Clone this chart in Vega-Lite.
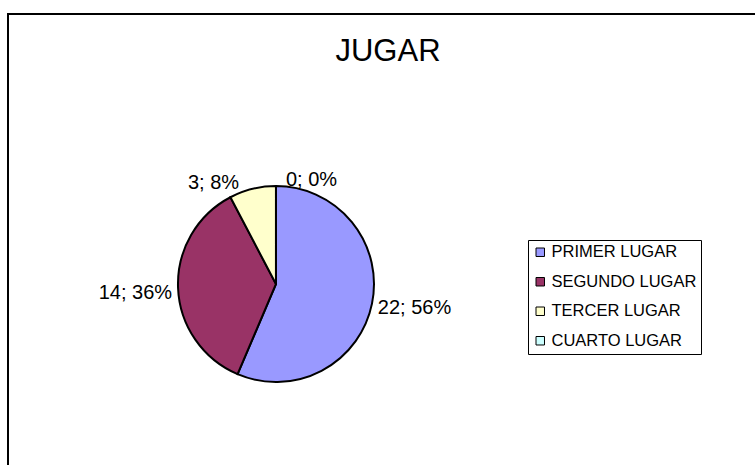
{
  "$schema": "https://vega.github.io/schema/vega-lite/v6.json",
  "width": 760,
  "height": 470,
  "autosize": {"type": "none"},
  "padding": {"left": 8, "top": 14, "right": 0, "bottom": 0},
  "background": "#ffffff",
  "config": {
    "view": {"stroke": "#000000", "strokeWidth": 2},
    "font": "Liberation Sans"
  },
  "title": {
    "text": "JUGAR",
    "font": "Liberation Sans",
    "fontSize": 31,
    "fontWeight": "normal",
    "color": "#000000",
    "anchor": "middle",
    "orient": "top",
    "baseline": "alphabetic",
    "offset": -78
  },
  "data": {
    "values": [
      {"cat": "PRIMER LUGAR", "value": 22, "label": "22; 56%", "order": 1},
      {"cat": "SEGUNDO LUGAR", "value": 14, "label": "14; 36%", "order": 2},
      {"cat": "TERCER LUGAR", "value": 3, "label": "3; 8%", "order": 3},
      {"cat": "CUARTO LUGAR", "value": 0, "label": "0; 0%", "order": 4}
    ]
  },
  "encoding": {
    "x": {"datum": "pie", "type": "nominal", "scale": {"type": "point", "align": 0.3526}, "axis": null},
    "y": {"datum": "pie", "type": "nominal", "scale": {"type": "point", "align": 0.5745}, "axis": null},
    "theta": {"field": "value", "type": "quantitative", "stack": true},
    "order": {"field": "order", "type": "quantitative"}
  },
  "layer": [
    {
      "mark": {"type": "arc", "outerRadius": 98, "stroke": "#000000", "strokeWidth": 2},
      "encoding": {
        "color": {
          "field": "cat",
          "type": "nominal",
          "scale": {
            "domain": ["PRIMER LUGAR", "SEGUNDO LUGAR", "TERCER LUGAR", "CUARTO LUGAR"],
            "range": ["#9999FF", "#993366", "#FFFFCC", "#CCFFFF"]
          },
          "legend": {
            "orient": "none",
            "legendX": 520,
            "legendY": 226,
            "title": null,
            "strokeColor": "#000000",
            "fillColor": "#ffffff",
            "padding": 4,
            "symbolType": "square",
            "symbolSize": 72,
            "symbolStrokeColor": "#000000",
            "symbolStrokeWidth": 1,
            "labelFont": "Liberation Sans",
            "labelFontSize": 16.5,
            "labelColor": "#000000",
            "labelOffset": 3,
            "rowPadding": 12.5
          }
        }
      }
    },
    {
      "mark": {
        "type": "text",
        "radius": 104,
        "fontSize": 20,
        "font": "Liberation Sans",
        "color": "#000000",
        "baseline": "middle",
        "align": {"expr": "datum.cat == 'SEGUNDO LUGAR' || datum.cat == 'TERCER LUGAR' ? 'right' : 'left'"},
        "dx": {"expr": "datum.cat == 'TERCER LUGAR' ? -12 : datum.cat == 'CUARTO LUGAR' ? 10 : 0"},
        "dy": {"expr": "datum.cat == 'SEGUNDO LUGAR' ? 5 : datum.cat == 'PRIMER LUGAR' ? 3 : 0"}
      },
      "encoding": {
        "text": {"field": "label"},
        "detail": {"field": "cat"}
      }
    }
  ]
}
